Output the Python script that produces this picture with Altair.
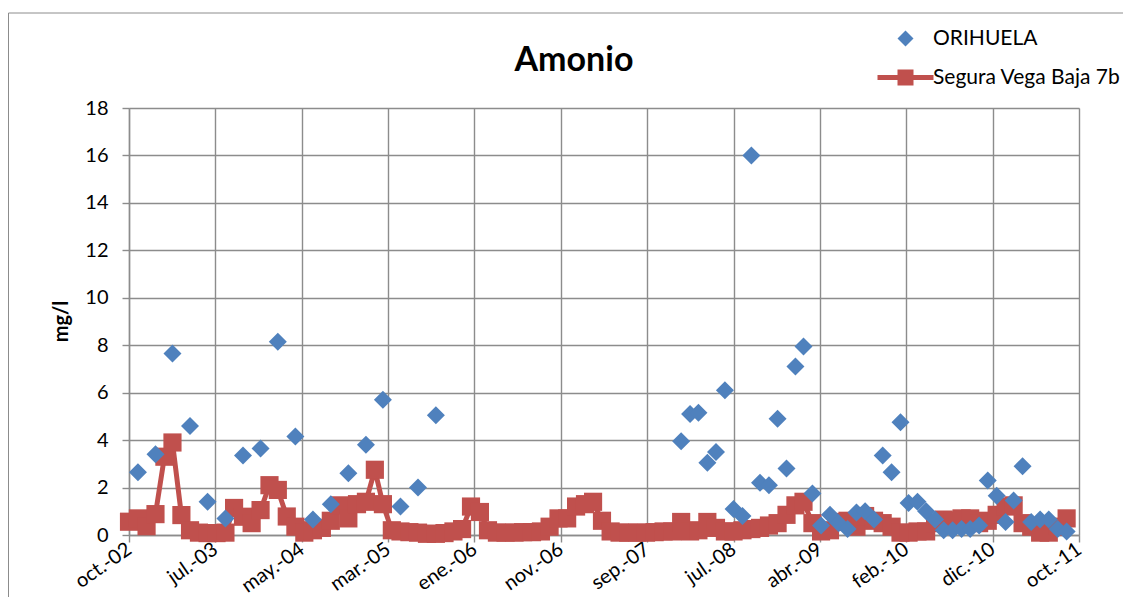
import altair as alt
import pandas as pd

TITLE = "Amonio"
Y_TITLE = "mg/l"
SERIES = ["ORIHUELA", "Segura Vega Baja 7b"]
COLORS = ["#4F81BD", "#C0504D"]
GRID = "#8c8c8c"

# Segura Vega Baja 7b: monthly, Oct 2002 - Sep 2011
SEGURA_START = "2002-10-01"
SEGURA_END = "2011-09-01"
SEGURA_VALUES = [
    0.56, 0.7, 0.37,
    0.88, 3.3, 3.9, 0.84, 0.2, 0.1, 0.08, 0.08, 0.1, 1.14, 0.77, 0.5,
    1.05, 2.1, 1.9, 0.78, 0.35, 0.1, 0.2, 0.3, 0.6, 1.25, 0.7, 1.3,
    1.4, 2.75, 1.3, 0.2, 0.15, 0.12, 0.1, 0.05, 0.05, 0.08, 0.15, 0.25,
    1.2, 0.97, 0.2, 0.1, 0.1, 0.1, 0.12, 0.12, 0.15, 0.35, 0.7, 0.7,
    1.2, 1.3, 1.4, 0.6, 0.15, 0.1, 0.1, 0.1, 0.1, 0.12, 0.15, 0.15,
    0.55, 0.15, 0.2, 0.55, 0.3, 0.15, 0.15, 0.2, 0.25, 0.3, 0.4, 0.5,
    0.85, 1.25, 1.4, 0.5, 0.15, 0.2, 0.55, 0.6, 0.35, 0.8, 0.6, 0.5,
    0.35, 0.1, 0.1, 0.15, 0.15, 0.5, 0.65, 0.6, 0.7, 0.7, 0.5, 0.6,
    0.85, 1.2, 1.25, 0.5, 0.35, 0.1, 0.1, 0.35, 0.7,
]

# ORIHUELA: bimonthly Nov 2002 - Sep 2005, then monthly Jan 2008 - Sep 2011
ORIHUELA_BIMONTHLY = ("2002-11-01", "2005-09-01")
ORIHUELA_MONTHLY = ("2008-01-01", "2011-09-01")
ORIHUELA_VALUES = [
    2.65, 3.4, 7.65, 4.6, 1.4, 0.7, 3.35, 3.65, 8.15, 4.15, 0.65, 1.3,
    2.6, 3.8, 5.7, 1.2, 2.0, 5.05,
    3.95, 5.1, 5.15, 3.05, 3.5, 6.1, 1.1, 0.8, 16.0, 2.2, 2.1, 4.9,
    2.8, 7.1, 7.95, 1.75, 0.4, 0.85, 0.5, 0.25, 0.95, 1.0, 0.65, 3.35,
    2.65, 4.75, 1.35, 1.4, 1.0, 0.65, 0.2, 0.2, 0.25, 0.25, 0.4, 2.3,
    1.65, 0.55, 1.45, 2.9, 0.55, 0.65, 0.65, 0.25, 0.15,
]

TICK_DATES = [
    "2002-10-01", "2003-07-28", "2004-05-23", "2005-03-19", "2006-01-13",
    "2006-11-09", "2007-09-05", "2008-07-01", "2009-04-27", "2010-02-21",
    "2010-12-18", "2011-10-14",
]
TICK_LABELS = [
    "oct.-02", "jul.-03", "may.-04", "mar.-05", "ene.-06", "nov.-06",
    "sep.-07", "jul.-08", "abr.-09", "feb.-10", "dic.-10", "oct.-11",
]
Y_TICKS = [0, 2, 4, 6, 8, 10, 12, 14, 16, 18]

seg_dates = pd.date_range(SEGURA_START, SEGURA_END, freq="MS")
df_seg = pd.DataFrame({
    "fecha": seg_dates.strftime("%Y-%m-%d"),
    "valor": SEGURA_VALUES,
    "serie": SERIES[1],
})
ori_dates = list(pd.date_range(*ORIHUELA_BIMONTHLY, freq="2MS")) + \
    list(pd.date_range(*ORIHUELA_MONTHLY, freq="MS"))
df_ori = pd.DataFrame({
    "fecha": [d.strftime("%Y-%m-%d") for d in ori_dates],
    "valor": ORIHUELA_VALUES,
    "serie": SERIES[0],
})

tick_ms = [int(pd.Timestamp(d).timestamp() * 1000) for d in TICK_DATES]
label_expr = "[" + ",".join("'%s'" % s for s in TICK_LABELS) + "][indexof([" + \
    ",".join(str(m) for m in tick_ms) + "], time(datum.value))]"

FONT = "Lato"

x_enc = alt.X(
    "fecha:T",
    scale=alt.Scale(type="utc", domain=[tick_ms[0], tick_ms[-1]], nice=False),
    axis=alt.Axis(
        values=tick_ms, labelExpr=label_expr, labelAngle=325,
        labelAlign="right", labelBaseline="middle", labelPadding=5,
        labelOverlap=False, labelFlush=False, labelBound=False,
        tickSize=7, tickColor=GRID, domainColor=GRID, gridColor=GRID,
        gridWidth=1.4, domainWidth=1.4, tickWidth=1.4,
        labelFont=FONT, labelFontSize=20, labelColor="black", title=None,
    ),
)
y_enc = alt.Y(
    "valor:Q",
    scale=alt.Scale(domain=[0, 18], nice=False),
    axis=alt.Axis(
        values=Y_TICKS, tickSize=7, labelPadding=14,
        tickColor=GRID, domainColor=GRID, gridColor=GRID,
        gridWidth=1.4, domainWidth=1.4, tickWidth=1.4,
        labelFont=FONT, labelFontSize=20, labelColor="black",
        title=Y_TITLE, titleFont=FONT, titleFontSize=20, titleFontWeight="bold",
        titleColor="black", titleAngle=270, titleX=-58, titleY=213,
        titleBaseline="bottom", titleAlign="center",
    ),
)

LEGEND_PATH = "M-3.5,-0.32H3.5V0.32H-3.5Z M-1,-1H1V1H-1Z"
legend = alt.Legend(
    title=None, orient="none", legendX=766, legendY=-80, padding=0,
    symbolSize=256, labelOffset=17, rowPadding=17, labelFont=FONT,
    labelFontSize=21, labelColor="black", labelLimit=400,
    symbolOpacity=1, symbolStrokeWidth=0,
)

frame = alt.Chart(pd.DataFrame({"k": [0]})).mark_rect(
    fill="transparent", stroke=GRID, strokeWidth=1
).encode(x=alt.value(-120.5), x2=alt.value(1100), y=alt.value(-95), y2=alt.value(600))

line = alt.Chart(df_seg).mark_line(color=COLORS[1], strokeWidth=5).encode(x=x_enc, y=y_enc)
squares = alt.Chart(df_seg).mark_point(
    shape="square", filled=True, size=330, opacity=1, color=COLORS[1]
).encode(x=x_enc, y=y_enc)
diamonds = alt.Chart(df_ori).mark_point(filled=True, size=324, opacity=1).encode(
    x=x_enc, y=y_enc,
    color=alt.Color("serie:N", scale=alt.Scale(domain=SERIES, range=COLORS), legend=legend),
    shape=alt.Shape("serie:N", scale=alt.Scale(domain=SERIES, range=["diamond", LEGEND_PATH]), legend=legend),
)

chart = alt.layer(frame, line, squares, diamonds).properties(
    width=950, height=427,
    autosize=alt.AutoSizeParams(type="none"),
    padding={"left": 121, "top": 100, "right": 44, "bottom": 62},
    title=alt.Title(TITLE, font=FONT, fontSize=34, fontWeight="bold", anchor="middle",
                    frame="group", offset=0, dx=-30, dy=92, baseline="alphabetic", color="black"),
).configure_view(strokeWidth=0).configure(font=FONT)

chart.save("out.html", embed_options={"renderer": "svg", "actions": False})
